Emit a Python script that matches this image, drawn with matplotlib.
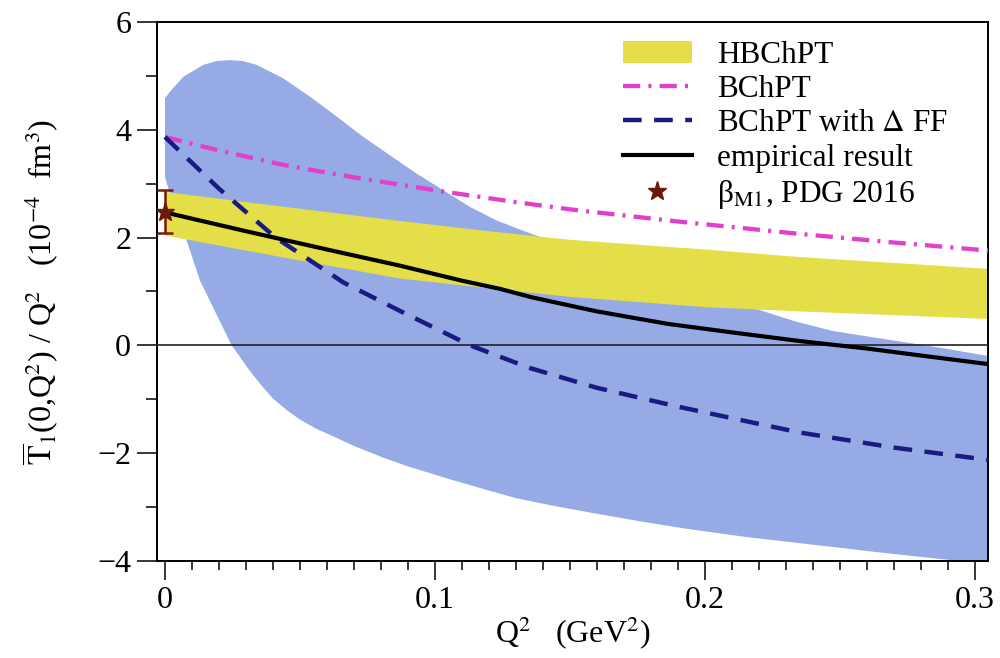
import numpy as np
import matplotlib
matplotlib.use("Agg")
import matplotlib.pyplot as plt
from matplotlib.ticker import MultipleLocator, FixedFormatter, FixedLocator

plt.rcParams['font.family'] = ['Liberation Serif', 'DejaVu Serif']
plt.rcParams['mathtext.fontset'] = 'stix'

# empirical result band (upper / lower edge)
q2_band_hi = [0, 0.002, 0.0068, 0.0142, 0.019, 0.024, 0.029, 0.034, 0.0438, 0.0537, 0.0636,
              0.0735, 0.0833, 0.0932, 0.1031, 0.113, 0.1228, 0.1326, 0.145, 0.165, 0.19,
              0.205, 0.22, 0.233, 0.247, 0.262, 0.275, 0.29, 0.305]
band_hi = [4.59, 4.72, 4.99, 5.21, 5.28, 5.30, 5.28, 5.21, 4.96, 4.62, 4.25,
           3.87, 3.53, 3.19, 2.88, 2.57, 2.32, 2.13, 1.90, 1.45, 1.00,
           0.80, 0.66, 0.45, 0.27, 0.15, 0.05, -0.07, -0.20]
q2_band_lo = [0, 0.003, 0.008, 0.013, 0.019, 0.0247, 0.0315, 0.036, 0.040, 0.045, 0.050, 0.056,
              0.0623, 0.07, 0.081, 0.09, 0.1056, 0.118, 0.130, 0.1426, 0.16, 0.176,
              0.192, 0.215, 0.241, 0.265, 0.291, 0.305]
band_lo = [3.13, 2.60, 1.95, 1.20, 0.58, 0.0, -0.48, -0.76, -0.99, -1.20, -1.38, -1.55,
           -1.69, -1.87, -2.09, -2.25, -2.49, -2.67, -2.84, -2.97, -3.13, -3.27,
           -3.40, -3.56, -3.71, -3.85, -3.99, -4.05]

# HBChPT band
q2_hb = [0, 0.043, 0.087, 0.12, 0.15, 0.2, 0.235, 0.27, 0.305]
hb_hi = [2.85, 2.58, 2.31, 2.12, 1.96, 1.78, 1.64, 1.53, 1.42]
hb_lo = [2.04, 1.64, 1.24, 1.06, 0.90, 0.71, 0.63, 0.56, 0.49]

# BChPT
q2_b = [0, 0.02, 0.044, 0.07, 0.104, 0.13, 0.151, 0.19, 0.235, 0.27, 0.305]
t1_b = [3.87, 3.62, 3.35, 3.12, 2.85, 2.66, 2.52, 2.30, 2.07, 1.91, 1.76]

# BChPT with Delta FF
q2_d = [0, 0.02, 0.041, 0.066, 0.087, 0.113, 0.135, 0.16, 0.19, 0.235, 0.27, 0.305]
t1_d = [3.87, 2.91, 2.00, 1.17, 0.64, 0.0, -0.42, -0.79, -1.14, -1.62, -1.90, -2.13]

# empirical result
q2_e = [0, 0.03, 0.06, 0.087, 0.11, 0.124, 0.136, 0.16, 0.186, 0.21, 0.235, 0.26, 0.28, 0.305]
t1_e = [2.47, 2.12, 1.78, 1.48, 1.20, 1.05, 0.89, 0.63, 0.40, 0.24, 0.08, -0.06, -0.19, -0.35]

# PDG 2016 beta_M1
pdg_x = [0.0]
pdg_y = [2.48]
pdg_err = [0.40]

fig = plt.figure(figsize=(10, 6.58), dpi=100)
ax = fig.add_axes([0.1567, 0.148, 0.8313, 0.818])

poly_x = np.concatenate([q2_band_hi, q2_band_lo[::-1]])
poly_y = np.concatenate([band_hi, band_lo[::-1]])
ax.fill(poly_x, poly_y, color='#96aae6', edgecolor='none', zorder=1)

ax.fill_between(q2_hb, hb_lo, hb_hi, color='#e4de48', edgecolor='none', zorder=2,
                label='HBChPT')
ax.axhline(0, color='#222222', lw=1.2, zorder=3)

ax.plot(q2_b, t1_b, color='#e23fcb', lw=3.1, dashes=(4.0, 1.9, 0.7, 1.9), zorder=4,
        label='BChPT')
ax.plot(q2_d, t1_d, color='#1a1a80', lw=3.2, dashes=(4.2, 2.8), zorder=5,
        label=r'BChPT with $\Delta$ FF')
ax.plot(q2_e, t1_e, color='black', lw=3.0, zorder=6, label='empirical result')

ax.errorbar(pdg_x, pdg_y, yerr=pdg_err, fmt='none', ecolor='#7a1a0a', elinewidth=1.8,
            capsize=6, capthick=1.8, zorder=7)
ax.plot(pdg_x, pdg_y, ls='none', marker='*', ms=14, color='#6b1a0a', zorder=8,
        label='β$_{\\mathrm{M1}}$, PDG 2016')

ax.set_xlim(-0.00307, 0.3048)
ax.set_ylim(-4, 6)
ax.xaxis.set_major_locator(FixedLocator([0, 0.1, 0.2, 0.3]))
ax.xaxis.set_major_formatter(FixedFormatter(['0', '0.1', '0.2', '0.3']))
ax.xaxis.set_minor_locator(MultipleLocator(0.01))
ax.yaxis.set_major_locator(MultipleLocator(2))
ax.yaxis.set_minor_locator(MultipleLocator(1))

ax.tick_params(axis='x', which='major', direction='out', length=13.5, width=1.1,
               labelsize=23, pad=5)
ax.tick_params(axis='x', which='minor', direction='out', length=6.5, width=1.1)
ax.tick_params(axis='y', which='major', direction='out', length=14.4, width=1.1,
               labelsize=23, pad=4)
ax.tick_params(axis='y', which='minor', direction='out', length=8, width=1.1)
for s in ax.spines.values():
    s.set_linewidth(1.4)

ax.set_xlabel('Q$^2$   (GeV$^2$)', fontsize=23, labelpad=0)
ax.set_ylabel(r'$\overline{\mathrm{T}}_1$(0,Q$^2$) / Q$^2$   (10$^{-4}$  fm$^3$)',
              fontsize=23, labelpad=26)

ax.legend(loc='upper left', bbox_to_anchor=(0.561, 0.966), frameon=False, fontsize=22.5,
          handlelength=2.2, handletextpad=0.8, labelspacing=0.17, borderpad=0,
          borderaxespad=0)

fig.savefig('out.png', dpi=100)
